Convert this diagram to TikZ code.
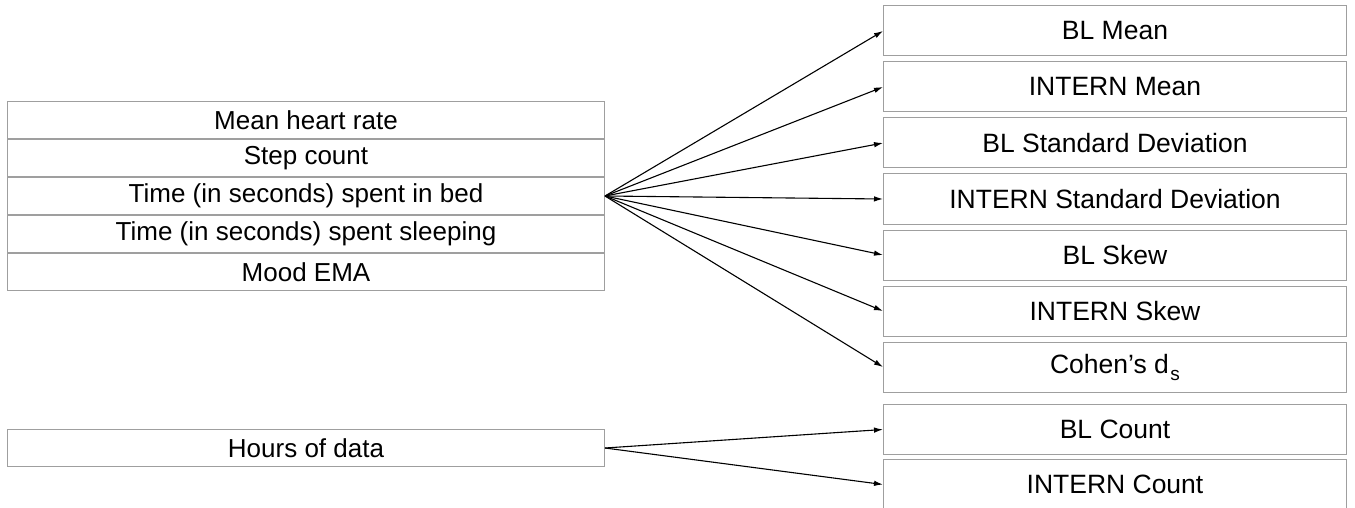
\documentclass[tikz,border=0pt]{standalone}
\usepackage{fontspec}
\setmainfont{Liberation Sans}
\usetikzlibrary{positioning,arrows.meta}
\tikzset{
  fila/.style={draw=gray!75, line width=1pt, minimum width=597pt, minimum height=37pt, inner sep=0pt, font=\fontsize{26}{30}\selectfont},
  medida/.style={draw=gray!75, line width=1pt, minimum width=463pt, minimum height=50pt, inner sep=0pt, font=\fontsize{26.5}{30}\selectfont},
  flecha/.style={-{Latex[length=9pt,width=5.5pt]}, line width=1.1pt}
}
\begin{document}
\begin{tikzpicture}[x=1pt,y=-1pt]
      \useasboundingbox (0,0) rectangle (1355,508);

      % Tabla de variables
      \node[fila, anchor=north west] (ritmo) at (7,101) {Mean heart rate};
      \node[fila, below=0pt of ritmo] (pasos) {Step count};
      \node[fila, below=0pt of pasos] (cama) {Time (in seconds) spent in bed};
      \node[fila, below=0pt of cama] (sueno) {Time (in seconds) spent sleeping};
      \node[fila, below=0pt of sueno] (animo) {Mood EMA};

      % Horas de datos
      \node[fila, anchor=north west] (horas) at (7,429) {Hours of data};

      % Medidas calculadas
      \node[medida, anchor=north west] (blmedia) at (883,5.5) {BL Mean};
      \node[medida, below=5pt of blmedia] (inmedia) {INTERN Mean};
      \node[medida, below=5pt of inmedia] (bldesv) {BL Standard Deviation};
      \node[medida, below=5pt of bldesv] (indesv) {INTERN Standard Deviation};
      \node[medida, below=5pt of indesv] (blsesgo) {BL Skew};
      \node[medida, below=5pt of blsesgo] (insesgo) {INTERN Skew};
      \node[medida, below=5pt of insesgo] (cohen) {Cohen’s d\hspace{1.5pt}\raisebox{-7pt}{\fontsize{19}{19}\selectfont s}};
      \node[medida, below=11.5pt of cohen] (blcuenta) {BL Count};
      \node[medida, below=4pt of blcuenta] (incuenta) {INTERN Count};

      % Flechas
      \foreach \m in {blmedia, inmedia, bldesv, indesv, blsesgo, insesgo, cohen}
        \draw[flecha] (cama.east) -- (\m.west);
      \draw[flecha] (horas.east) -- (blcuenta.west);
      \draw[flecha] (horas.east) -- (incuenta.west);
    \end{tikzpicture}
\end{document}
